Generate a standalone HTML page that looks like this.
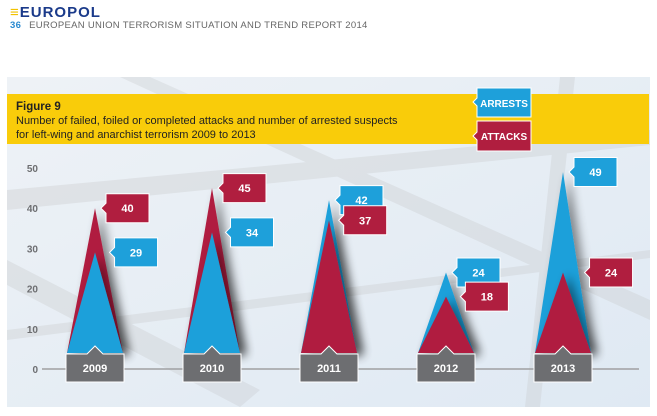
<!DOCTYPE html>
<html><head><meta charset="utf-8"><style>
body{margin:0;width:657px;height:416px;background:#fff;overflow:hidden;font-family:"Liberation Sans",sans-serif;position:relative}
.t{position:absolute}
</style></head><body>
<div class="t" style="left:10px;top:4px;font-weight:bold;font-size:15px;color:#1a3a8a;letter-spacing:1px"><span style="color:#f2c200">≡</span>EUROPOL</div>
<div class="t" style="left:10px;top:20px;font-size:9.5px;color:#666;letter-spacing:.3px"><b style="color:#2a8ad0;margin-right:8px">36</b>EUROPEAN UNION TERRORISM SITUATION AND TREND REPORT 2014</div>
<svg class="t" style="left:0;top:0" width="657" height="416">
<defs>
<linearGradient id="bg" x1="0" y1="0" x2="1" y2="1"><stop offset="0" stop-color="#eef2f6"/><stop offset="1" stop-color="#dfe9f3"/></linearGradient>
<filter id="sh" x="-50%" y="-20%" width="200%" height="140%"><feGaussianBlur in="SourceAlpha" stdDeviation="5"/><feOffset dx="6" dy="2"/><feComponentTransfer><feFuncA type="linear" slope="0.45"/></feComponentTransfer><feMerge><feMergeNode/><feMergeNode in="SourceGraphic"/></feMerge></filter>
</defs>
<rect x="7" y="77" width="643" height="330" fill="url(#bg)"/>
<g opacity="0.35" fill="#c9cbcd">
<polygon points="7,190 650,130 650,145 7,210"/>
<polygon points="7,260 260,390 240,407 7,285"/>
<polygon points="150,77 650,300 650,320 120,77"/>
<polygon points="7,330 650,250 650,258 7,340"/>
<polygon points="560,77 575,77 540,407 525,407"/>
</g>
<rect x="7" y="94" width="642" height="50" fill="#f9cc0a"/>
<text x="16" y="110" font-size="11.5" font-weight="bold" fill="#222">Figure 9</text>
<text x="16" y="124" font-size="11" fill="#222">Number of failed, foiled or completed attacks and number of arrested suspects</text>
<text x="16" y="138" font-size="11" fill="#222">for left-wing and anarchist terrorism 2009 to 2013</text>
<g><polygon points="477,88 531,88 531,117 477,117 477,106 473,102 477,98" fill="#1ea0da" stroke="#fff"/><text x="504" y="107" text-anchor="middle" font-size="10" font-weight="bold" fill="#fff">ARRESTS</text></g>
<g><polygon points="477,121 531,121 531,151 477,151 477,140 473,136 477,132" fill="#b01e3f" stroke="#fff"/><text x="504" y="140" text-anchor="middle" font-size="10" font-weight="bold" fill="#fff">ATTACKS</text></g>
<g id="axis"></g><g id="marks"></g><g id="labels"></g>
</svg>
<script>
const years=["2009","2010","2011","2012","2013"];
const arrests=[29,34,42,24,49];
const attacks=[40,45,37,18,24];
const ticks=[0,10,20,30,40,50];
const NS="http://www.w3.org/2000/svg";
const y0=369,y50=168,x0=95,dx=117,base=353,hw=28;
const Y=v=>y0-(y0-y50)*v/50, X=i=>x0+dx*i;
function mk(t,a,p){const e=document.createElementNS(NS,t);for(const k in a)e.setAttribute(k,a[k]);p.appendChild(e);return e;}
const ax=document.getElementById('axis'),mg=document.getElementById('marks'),lg=document.getElementById('labels');
const ln=mk('line',{x1:42,x2:639,y1:y0,y2:y0,stroke:'#a0a0a2','stroke-width':1.5},ax);


ticks.forEach(t=>{const e=mk('text',{x:38,y:Y(t)+4,'text-anchor':'end','font-size':10,'font-weight':'bold',fill:'#6d6e71'},ax);e.textContent=t;

});
function tri(c,v,col,name){const p=mk('polygon',{points:`${c-hw},${base} ${c},${Y(v)} ${c+hw},${base}`,fill:col,filter:'url(#sh)'},mg);

}
function label(c,v,other,col,name){const outer=Math.max(v,other);const yv=Y(v);
const edge=hw*(yv-Y(outer))/(base-Y(outer));const px=c+edge+6;const bx=px+5,w=43,h=29,t=yv-h/2;
const g=mk('g',{},lg);


mk('polygon',{points:`${bx},${t} ${bx+w},${t} ${bx+w},${t+h} ${bx},${t+h} ${bx},${yv+5} ${px},${yv} ${bx},${yv-5}`,fill:col,stroke:'#fff','stroke-width':1},g);
const tx=mk('text',{x:bx+w/2,y:yv+4,'text-anchor':'middle','font-size':11,'font-weight':'bold',fill:'#fff'},g);tx.textContent=v;}
years.forEach((yr,i)=>{const c=X(i);
if(arrests[i]>=attacks[i]){tri(c,arrests[i],'#1ea0da','arrests-'+yr);tri(c,attacks[i],'#b01e3f','attacks-'+yr);}
else{tri(c,attacks[i],'#b01e3f','attacks-'+yr);tri(c,arrests[i],'#1ea0da','arrests-'+yr);}
const g=mk('g',{},mg);


mk('polygon',{points:`${c-29},354 ${c-8},354 ${c},346 ${c+8},354 ${c+29},354 ${c+29},382 ${c-29},382`,fill:'#6d6e71',stroke:'#fff','stroke-width':1},g);
const t=mk('text',{x:c,y:372,'text-anchor':'middle','font-size':11,'font-weight':'bold',fill:'#fff'},g);t.textContent=yr;
});
years.forEach((yr,i)=>{const c=X(i);
label(c,arrests[i],attacks[i],'#1ea0da','arrests-value-'+yr);
label(c,attacks[i],arrests[i],'#b01e3f','attacks-value-'+yr);});
</script>
</body></html>
